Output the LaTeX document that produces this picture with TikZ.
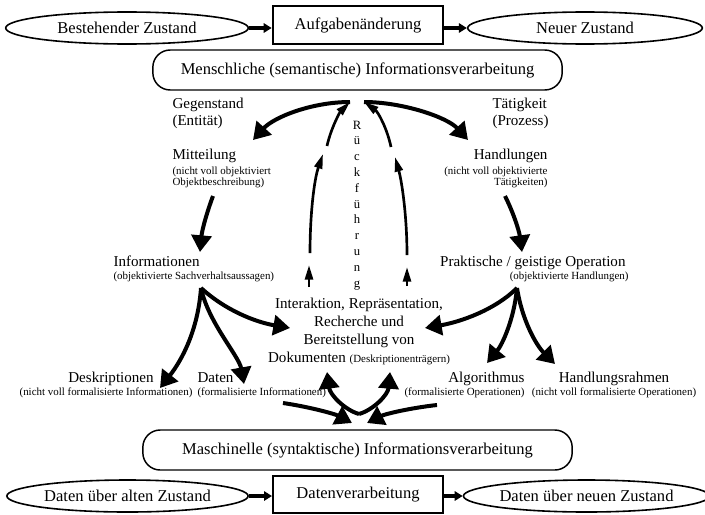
\documentclass[tikz,border=0pt]{standalone}
\usepackage{fontspec}
\setmainfont{Liberation Serif}
\usetikzlibrary{arrows.meta,shapes.geometric}

\tikzset{every picture/.style={line width=0.75pt}}
\tikzset{
  zustand/.style={ellipse, draw, line width=1.2pt, inner sep=0pt, minimum height=24pt, font=\fontsize{12.4}{14}\selectfont},
  kasten/.style={rectangle, draw, line width=1.5pt, inner sep=0pt, font=\fontsize{12.4}{14}\selectfont},
  ebene/.style={rectangle, draw, line width=1.1pt, rounded corners=13pt, inner sep=0pt, minimum height=30pt, font=\fontsize{12.4}{14}\selectfont},
  titel/.style={inner sep=0pt, font=\fontsize{11.3}{13.5}\selectfont},
  klein/.style={inner sep=0pt, font=\fontsize{8.2}{10}\selectfont},
  rueckfont/.style={inner sep=0pt, font=\fontsize{9.5}{11}\selectfont},
  flow/.style={line width=2.5pt, -{Triangle[length=6pt,width=7pt]}},
  pfeil/.style={line width=3pt, -{Triangle[length=12.5pt,width=15pt]}},
  rueck/.style={line width=2pt, -{Triangle[length=11pt,width=6pt]}}
}

\begin{document}
\begin{tikzpicture}[x=0.75pt,y=0.75pt,yscale=-1,xscale=1]
	\useasboundingbox (0,0) rectangle (705,514);

	% obere Reihe
	\node (best) [zustand, minimum width=182pt] at (127,28) {Bestehender Zustand};
	\node (aufg) [kasten, minimum width=128pt, minimum height=28.5pt] at (358,25) {Aufgabenänderung};
	\node (neu) [zustand, minimum width=176pt] at (585,28) {Neuer Zustand};
	\draw [flow] (best.east) -- (best.east -| aufg.west);
	\draw [flow] (aufg.east |- neu.west) -- (neu.west);

	% Ebenen
	\node (mensch) [ebene, minimum width=307pt] at (357.5,70) {Menschliche (semantische) Informationsverarbeitung};
	\node (masch) [ebene, minimum width=322pt] at (357.5,450) {Maschinelle (syntaktische) Informationsverarbeitung};

	% untere Reihe
	\node (alt) [zustand, minimum width=181pt] at (127.5,496) {Daten über alten Zustand};
	\node (dv) [kasten, minimum width=127.5pt, minimum height=27.5pt] at (358,494.5) {Datenverarbeitung};
	\node (neuz) [zustand, minimum width=175pt] at (586.5,496) {Daten über neuen Zustand};
	\draw [flow] (alt.east) -- (alt.east -| dv.west);
	\draw [flow] (dv.east |- neuz.west) -- (neuz.west);

	% linke Seite
	\node (gegen) [titel, anchor=base west] at (172,108) {Gegenstand};
	\node (entit) [titel, anchor=base west] at (172,125) {(Entität)};
	\node (mitt) [titel, anchor=base west] at (172,159) {Mitteilung};
	\node (mitt1) [klein, anchor=base west] at (172,174) {(nicht voll objektiviert};
	\node (mitt2) [klein, anchor=base west] at (172,185) {Objektbeschreibung)};
	\node (info) [titel, anchor=base west] at (113,266) {Informationen};
	\node (info1) [klein, anchor=base west] at (113,279) {(objektivierte Sachverhaltsaussagen)};
	\node (desk) [titel, anchor=base] at (111,382) {Deskriptionen};
	\node (desk1) [klein, anchor=base] at (106,395) {(nicht voll formalisierte Informationen)};
	\node (daten) [titel, anchor=base west] at (197,382) {Daten};
	\node (daten1) [klein, anchor=base west] at (197,395) {(formalisierte Informationen)};

	% rechte Seite
	\node (taet) [titel, anchor=base west] at (492,108) {Tätigkeit};
	\node (proz) [titel, anchor=base west] at (492,125) {(Prozess)};
	\node (hand) [titel, anchor=base east] at (548,159) {Handlungen};
	\node (hand1) [klein, anchor=base east] at (548,174) {(nicht voll objektivierte};
	\node (hand2) [klein, anchor=base east] at (548,185) {Tätigkeiten)};
	\node (prak) [titel, anchor=base east] at (626,266) {Praktische / geistige Operation};
	\node (prak1) [klein, anchor=base east] at (629,279) {(objektivierte Handlungen)};
	\node (algo) [titel, anchor=base east] at (525,382) {Algorithmus};
	\node (algo1) [klein, anchor=base east] at (525,395) {(formalisierte Operationen)};
	\node (hrahmen) [titel, anchor=base] at (614,382) {Handlungsrahmen};
	\node (hrahmen1) [klein, anchor=base] at (614,395) {(nicht voll formalisierte Operationen)};

	% Mitte
	\node (inter) [titel, align=center] at (359,331) {Interaktion, Repräsentation,\\Recherche und\\Bereitstellung von\\Dokumenten {\fontsize{8.2}{10}\selectfont(Deskriptionenträgern)}};
	\foreach \ch [count=\i] in {R,ü,c,k,f,ü,h,r,u,n,g}
		\node (rf\i) [rueckfont, anchor=base] at (357,{129+15.8*(\i-1)}) {\ch};

	% Endpunkte
	\coordinate (obenL) at (350,102);
	\coordinate (obenR) at (364,102);
	\coordinate (mittIn) at (253,140);
	\coordinate (handIn) at (468,140);
	\coordinate (mittOut) at (213,196);
	\coordinate (infoIn) at (200,252);
	\coordinate (handOut) at (505,196);
	\coordinate (prakIn) at (522,252);
	\coordinate (infoOut) at (201,288);
	\coordinate (deskIn) at (160,388);
	\coordinate (datenIn) at (244,384);
	\coordinate (interL) at (290,328);
	\coordinate (prakOut) at (517,288);
	\coordinate (interR) at (425,328);
	\coordinate (algoIn) at (487,363);
	\coordinate (hrIn) at (555,364);
	\coordinate (datenOut) at (283,403);
	\coordinate (maschL) at (352,423);
	\coordinate (algoOut) at (437,405);
	\coordinate (maschR) at (367,423);
	\coordinate (maschUp) at (359,414);
	\coordinate (interBL) at (327,372);
	\coordinate (interBR) at (390,372);

	\draw [pfeil] (obenL) .. controls (312,102) and (274,117) .. (mittIn);
	\draw [pfeil] (obenR) .. controls (402,102) and (447,117) .. (handIn);
	\draw [pfeil] (mittOut) .. controls (207,212) and (202,230) .. (infoIn);
	\draw [pfeil] (handOut) .. controls (513,212) and (519,230) .. (prakIn);
	\draw [pfeil] (infoOut) .. controls (198,330) and (182,360) .. (deskIn);
	\draw [pfeil] (infoOut) .. controls (208,322) and (239,356) .. (datenIn);
	\draw [pfeil] (infoOut) .. controls (225,310) and (255,322) .. (interL);
	\draw [pfeil] (prakOut) .. controls (495,310) and (460,322) .. (interR);
	\draw [pfeil] (prakOut) .. controls (514,320) and (502,345) .. (algoIn);
	\draw [pfeil] (prakOut) .. controls (522,320) and (536,345) .. (hrIn);
	\draw [pfeil] (datenOut) .. controls (310,407) and (335,414) .. (maschL);
	\draw [pfeil] (algoOut) .. controls (410,408) and (385,414) .. (maschR);
	\draw [pfeil] (maschUp) .. controls (345,410) and (330,395) .. (interBL);
	\draw [pfeil] (maschUp) .. controls (373,410) and (388,395) .. (interBR);

	% Rückführung
	\coordinate (rlA1) at (309,287);
	\coordinate (rlA2) at (309,265);
	\coordinate (rlB1) at (310,253);
	\coordinate (rlB2) at (323,154);
	\coordinate (rlC1) at (327,146);
	\coordinate (rrA1) at (407,286);
	\coordinate (rrA2) at (407,267);
	\coordinate (rrB1) at (407,255);
	\coordinate (rrB2) at (395,157);
	\coordinate (rrC1) at (391,147);
	\draw [rueck] (rlA1) -- (rlA2);
	\draw [rueck] (rlB1) .. controls (310,215) and (314,180) .. (rlB2);
	\draw [rueck] (rlC1) .. controls (331,128) and (340,112) .. (obenL);
	\draw [rueck] (rrA1) -- (rrA2);
	\draw [rueck] (rrB1) .. controls (407,217) and (402,182) .. (rrB2);
	\draw [rueck] (rrC1) .. controls (387,128) and (378,112) .. (obenR);
\end{tikzpicture}
\end{document}
